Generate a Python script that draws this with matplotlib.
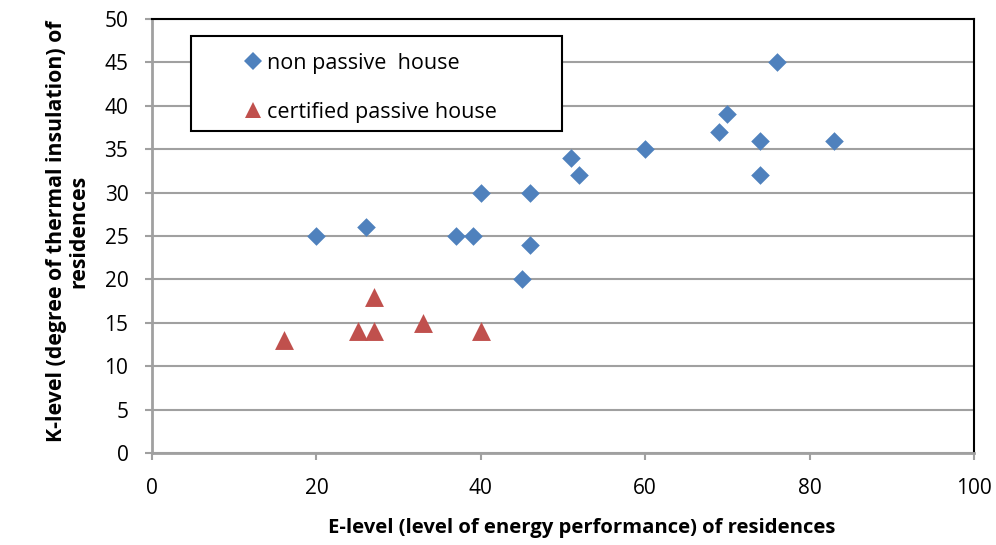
import matplotlib
matplotlib.use("Agg")
import matplotlib.pyplot as plt
from matplotlib.lines import Line2D
from matplotlib.patches import Rectangle

# E-level vs K-level of residences
non_passive_e = [20, 26, 37, 39, 40, 45, 46, 46, 51, 52, 60, 69, 70, 74, 74, 76, 83]
non_passive_k = [25, 26, 25, 25, 30, 20, 24, 30, 34, 32, 35, 37, 39, 36, 32, 45, 36]

passive_e = [16, 25, 27, 27, 33, 40]
passive_k = [13, 14, 14, 18, 15, 14]

x_ticks = [0, 20, 40, 60, 80, 100]
y_ticks = [0, 5, 10, 15, 20, 25, 30, 35, 40, 45, 50]

series_labels = ["non passive  house", "certified passive house"]

BLUE = "#4F81BD"
RED = "#C0504D"
GRID = "#A0A0A0"

plt.rcParams["font.family"] = ["Open Sans", "DejaVu Sans"]

W, H = 996, 545
fig = plt.figure(figsize=(W / 100, H / 100), dpi=100)
ax = fig.add_axes([152 / W, 1 - 453 / H, (974 - 152) / W, (453 - 19) / H])

ax.set_xlim(0, 100)
ax.set_ylim(0, 50)
ax.set_xticks(x_ticks)
ax.set_yticks(y_ticks)
ax.tick_params(axis="both", labelsize=15, colors=GRID, labelcolor="black",
               length=5, width=1.5, direction="out")
ax.tick_params(axis="x", pad=13)
ax.tick_params(axis="y", pad=12)

ax.yaxis.grid(True, color=GRID, linewidth=1.5)
ax.set_axisbelow(True)

for side in ("top", "right"):
    ax.spines[side].set_color("black")
    ax.spines[side].set_linewidth(1.5)
for side in ("left", "bottom"):
    ax.spines[side].set_color(GRID)
    ax.spines[side].set_linewidth(2)

ax.scatter(non_passive_e, non_passive_k, marker="D", s=90, color=BLUE,
           linewidths=0, zorder=3)
ax.scatter(passive_e, passive_k, marker="^", s=185, color=RED,
           linewidths=0, zorder=3)

ax.set_xlabel("E-level (level of energy performance) of residences",
              fontsize=14.6, fontweight="bold")
ax.xaxis.set_label_coords((581.5 - 152) / 822, (453 - 528) / 434)
ax.xaxis.label.set_va("center")

ax.set_ylabel("K-level (degree of thermal insulation) of\nresidences",
              fontsize=15.3, fontweight="bold", linespacing=1.05)
ax.yaxis.set_label_coords((67.5 - 152) / 822, 0.51)
ax.yaxis.label.set_va("center")

# legend: framed box drawn as a rectangle, entries placed inside it
fig.patches.append(Rectangle((191 / W, 1 - 131 / H), 371 / W, 95 / H,
                             transform=fig.transFigure, facecolor="white",
                             edgecolor="black", linewidth=1.5, zorder=4))
handles = [
    Line2D([], [], marker="D", linestyle="none", color=BLUE, markersize=8.7,
           markeredgewidth=0),
    Line2D([], [], marker="^", linestyle="none", color=RED, markersize=12.2,
           markeredgewidth=0),
]
leg = fig.legend(handles, series_labels, loc="center left",
                 bbox_to_anchor=(244 / W, 1 - 88 / H),
                 bbox_transform=fig.transFigure,
                 fontsize=15.5, frameon=False, handlelength=0.8,
                 handletextpad=0.25, labelspacing=1.3, borderpad=0,
                 borderaxespad=0)
leg.set_zorder(5)

fig.savefig("out.png", dpi=100)
